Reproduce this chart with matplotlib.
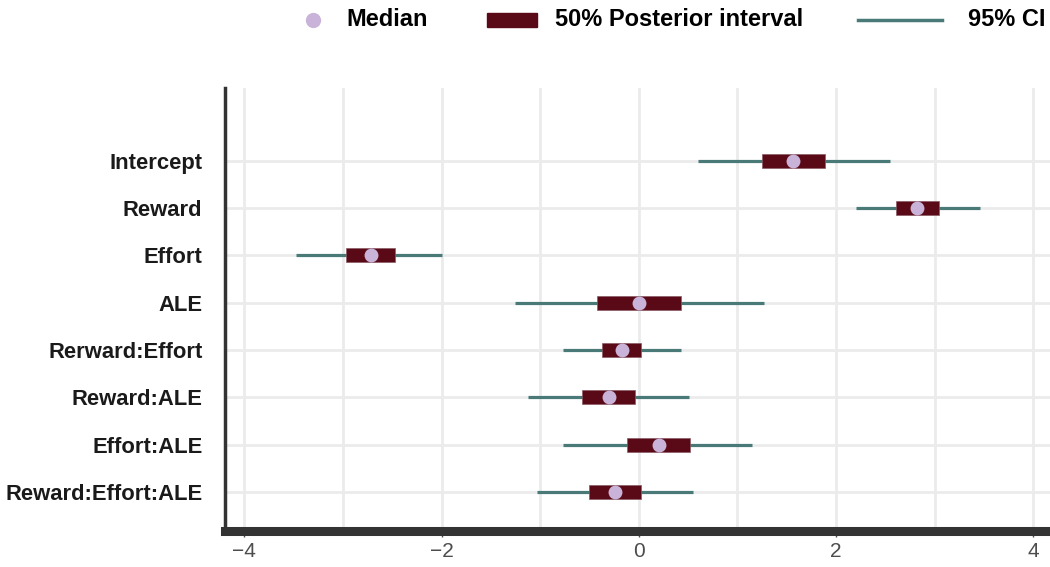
import matplotlib
matplotlib.use('Agg')
from matplotlib import pyplot as plt
from matplotlib.patches import Rectangle
from matplotlib.lines import Line2D

# Posterior summaries per model term (top to bottom)
terms = ['Intercept', 'Reward', 'Effort', 'ALE', 'Rerward:Effort',
         'Reward:ALE', 'Effort:ALE', 'Reward:Effort:ALE']
medians = [1.56, 2.82, -2.72, 0.00, -0.17, -0.30, 0.20, -0.24]
lo50 = [1.25, 2.61, -2.97, -0.42, -0.37, -0.58, -0.12, -0.51]
hi50 = [1.89, 3.04, -2.47, 0.43, 0.02, -0.04, 0.52, 0.02]
lo95 = [0.60, 2.20, -3.48, -1.26, -0.77, -1.12, -0.77, -1.03]
hi95 = [2.55, 3.46, -2.00, 1.27, 0.43, 0.51, 1.15, 0.55]

C_MED = '#c9b3d9'
C_BOX = '#5a0a16'
C_CI = '#4a7a78'
C_GRID = '#ebebeb'

plt.rcParams['font.family'] = ['Liberation Sans', 'DejaVu Sans']

fig = plt.figure(figsize=(10.5, 5.67), dpi=100)
ax = fig.add_axes([0.214, 0.063, 0.786, 0.782])

n = len(terms)
ys = list(range(n, 0, -1))

for y, m, a, b, c, d in zip(ys, medians, lo50, hi50, lo95, hi95):
    ax.plot([c, d], [y, y], color=C_CI, lw=2.3, solid_capstyle='butt', zorder=3)
    ax.barh(y, b - a, left=a, height=0.3, color=C_BOX, edgecolor='#8a5a66',
            linewidth=0.5, zorder=4)
    ax.plot(m, y, 'o', color=C_MED, ms=10, mec='none', zorder=5)

ax.set_xlim(-4.2, 4.17)
ax.set_ylim(0.17, n + 1.54)
ax.set_xticks([-4, -2, 0, 2, 4])
ax.set_xticks([-3, -1, 1, 3], minor=True)
ax.set_yticks(ys)
ax.set_yticklabels(terms, fontsize=15.8, fontweight='bold', color='#1a1a1a')
ax.tick_params(axis='x', labelsize=15, labelcolor='#4d4d4d', color='#4d4d4d',
               length=4, width=1)
ax.tick_params(axis='x', which='minor', length=0)
ax.tick_params(axis='y', length=0, pad=16)

ax.grid(True, which='both', color=C_GRID, lw=2)
ax.set_axisbelow(True)
for s in ['top', 'right']:
    ax.spines[s].set_visible(False)
ax.spines['left'].set_color('#333333')
ax.spines['left'].set_linewidth(2.5)
ax.spines['bottom'].set_color('#333333')
ax.spines['bottom'].set_linewidth(6.5)

# legend row across the top
ly = 1 - 20 / 567
fs = 17
fig.add_artist(Line2D([0.298], [ly], marker='o', color=C_MED, ms=11, mec='none',
                      transform=fig.transFigure))
fig.text(0.330, ly, 'Median', fontsize=fs, fontweight='bold', va='center')
fig.add_artist(Rectangle((0.464, ly - 7 / 567), 0.047, 14 / 567, color=C_BOX,
                         transform=fig.transFigure))
fig.text(0.529, ly, '50% Posterior interval', fontsize=fs, fontweight='bold',
         va='center')
fig.add_artist(Line2D([0.817, 0.897], [ly, ly], color=C_CI, lw=2.5,
                      transform=fig.transFigure))
fig.text(0.922, ly, '95% CI', fontsize=fs, fontweight='bold', va='center')

fig.savefig('out.png', dpi=100)
